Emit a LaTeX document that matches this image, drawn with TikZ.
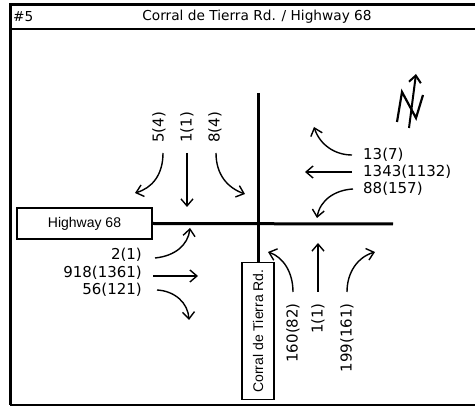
\documentclass[tikz,border=0pt]{standalone}
\usepackage{fontspec}
\setmainfont{DejaVu Sans}
\newfontfamily\streetfont{Liberation Sans}
\usetikzlibrary{positioning,arrows.meta}

\begin{document}
\begin{tikzpicture}[x=1pt, y=-1pt, >={Straight Barb[length=7pt,width=12pt]},
  move/.style={->, line width=1.4pt},
  road/.style={line width=3pt},
  count/.style={font=\fontsize{15}{17}\selectfont, inner sep=0pt},
  street/.style={draw, line width=1.8pt, fill=white, inner sep=0pt,
    font=\streetfont\fontsize{14}{16}\selectfont}]
  \useasboundingbox (0,0) rectangle (475,406);
  % frame and title bar
  \draw[line width=3pt] (10,405) -- (10,5) -- (475,5);
  \draw[line width=2.5pt] (10,29) -- (475,29);
  \draw[line width=1.5pt] (10,405) -- (475,405);
  \node[anchor=west, inner sep=0pt, font=\fontsize{13.7}{16}\selectfont] (num) at (13,17) {\#5};
  \node[inner sep=0pt, font=\fontsize{13.7}{16}\selectfont] (title) at (257,17) {Corral de Tierra Rd. / Highway 68};

  % roads
  \node[street, minimum width=135pt, minimum height=31pt] (hwy) at (84.5,223.5) {Highway 68};
  \node[street, rotate=90, minimum width=137pt, minimum height=32pt] (crt) at (258,331) {Corral de Tierra Rd.};
  \coordinate (ntop) at (258,93);
  \coordinate (eend) at (393,224);
  \draw[road] (hwy.east) -- (eend);
  \draw[road] (ntop) -- (crt.east);

  % southbound
  \node[count, rotate=90, anchor=west] (sbl) at (159,143) {5(4)};
  \node[count, rotate=90, anchor=west] (sbt) at (187,143) {1(1)};
  \node[count, rotate=90, anchor=west] (sbr) at (215,143) {8(4)};
  \draw[move] (163,153) .. controls (163,175) and (152,188) .. (135,193);
  \draw[move] (187,153) -- (187,207);
  \draw[move] (216,153) .. controls (216,175) and (228,188) .. (245,194);

  % eastbound
  \node[count, anchor=east] (ebl) at (142,255) {2(1)};
  \node[count, anchor=east] (ebt) at (142,273) {918(1361)};
  \node[count, anchor=east] (ebr) at (142,290) {56(121)};
  \draw[move] (155,258) .. controls (175,256) and (188,245) .. (190,228);
  \draw[move] (153,276) -- (198,276);
  \draw[move] (157,290) .. controls (175,291) and (188,303) .. (189,320);

  % westbound
  \node[count, anchor=west] (wbr) at (363,155) {13(7)};
  \node[count, anchor=west] (wbt) at (363,172) {1343(1132)};
  \node[count, anchor=west] (wbl) at (363,189) {88(157)};
  \draw[move] (352,155) .. controls (335,155) and (320,145) .. (314,127);
  \draw[move] (352,172) -- (305,172);
  \draw[move] (353,189) .. controls (335,190) and (320,200) .. (317,218);

  % northbound
  \node[count, rotate=90, anchor=east] (nbl) at (293,303) {160(82)};
  \node[count, rotate=90, anchor=east] (nbt) at (318,303) {1(1)};
  \node[count, rotate=90, anchor=east] (nbr) at (347,303) {199(161)};
  \draw[move] (293,292) .. controls (293,272) and (283,257) .. (268,252);
  \draw[move] (318,292) -- (318,243);
  \draw[move] (347,292) .. controls (347,272) and (358,257) .. (375,252);

  % north arrow
  \draw[line width=2.2pt, line join=miter] (397,122) -- (402,92) -- (416,118) -- (423,95);
  \draw[->, line width=2pt] (409,128) -- (416,74);
\end{tikzpicture}
\end{document}
